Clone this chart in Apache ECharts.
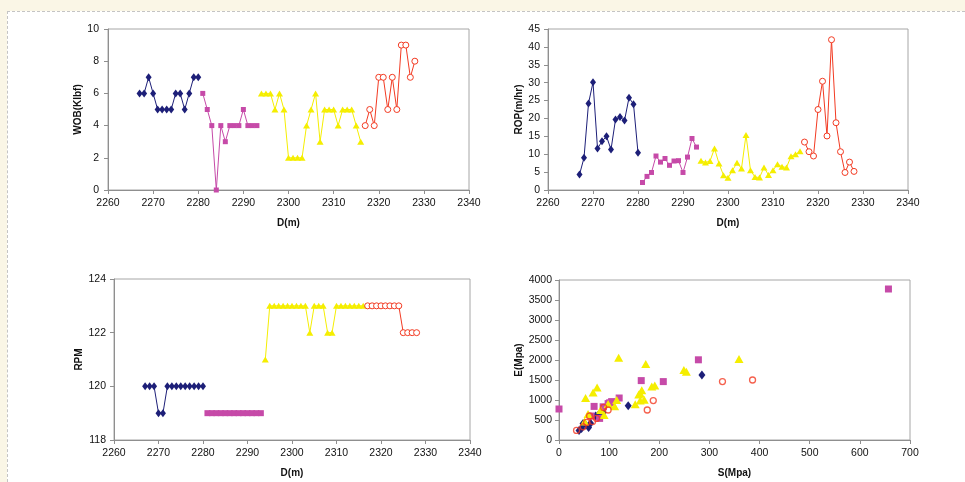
<!DOCTYPE html>
<html>
<head>
<meta charset="utf-8">
<script src="https://cdn.jsdelivr.net/npm/echarts@6/dist/echarts.min.js"></script>
<style>
  html, body { margin: 0; padding: 0; width: 965px; height: 482px; overflow: hidden; background: #faf6e6; }
  #frame { position: absolute; left: 7px; top: 11px; width: 958px; height: 471px; background: #ffffff;
           border-top: 1px dashed #c4c4c4; border-left: 1px dashed #c4c4c4; box-sizing: border-box; }
  #chart { position: absolute; left: 0; top: 0; width: 965px; height: 482px; }
</style>
</head>
<body>
<div id="frame"></div>
<div id="chart"></div>
<script>
// ---- Depth (m) for each section ----
const depthBlue   = [2267,2268,2269,2270,2271,2272,2273,2274,2275,2276,2277,2278,2279,2280];
const depthPink   = [2281,2282,2283,2284,2285,2286,2287,2288,2289,2290,2291,2292,2293];
const depthYellow = [2294,2295,2296,2297,2298,2299,2300,2301,2302,2303,2304,2305,2306,2307,2308,2309,2310,2311,2312,2313,2314,2315,2316];
const depthRed    = [2317,2318,2319,2320,2321,2322,2323,2324,2325,2326,2327,2328];

// ---- WOB (Klbf) ----
const wobBlue   = [6,6,7,6,5,5,5,5,6,6,5,6,7,7];
const wobPink   = [6,5,4,0,4,3,4,4,4,5,4,4,4];
const wobYellow = [6,6,6,5,6,5,2,2,2,2,4,5,6,3,5,5,5,4,5,5,5,4,3];
const wobRed    = [4,5,4,7,7,5,7,5,9,9,7,8];

// ---- ROP (m/hr) ----
const ropBlue   = [4.3,9.0,24.2,30.1,11.6,13.6,15.0,11.3,19.7,20.4,19.4,25.8,24.0,10.4];
const ropPink   = [2.1,3.8,4.9,9.5,7.8,8.8,6.9,8.1,8.2,4.9,9.2,14.4,12.0];
const ropYellow = [8.2,7.7,8.1,11.6,7.4,4.1,3.4,5.5,7.6,6.0,15.4,5.5,3.6,3.5,6.3,4.2,5.5,7.2,6.5,6.3,9.4,10.0,10.8];
const ropRed    = [13.4,10.7,9.5,22.5,30.4,15.1,42.0,18.8,10.7,4.9,7.8,5.2];

// ---- RPM ----
const rpmBlue   = [120,120,120,119,119,120,120,120,120,120,120,120,120,120];
const rpmPink   = [119,119,119,119,119,119,119,119,119,119,119,119,119];
const rpmYellow = [121,123,123,123,123,123,123,123,123,123,122,123,123,123,122,122,123,123,123,123,123,123,123];
const rpmRed    = [123,123,123,123,123,123,123,123,122,122,122,122];

// ---- S (Mpa) vs E (Mpa) ----
const sBlue   = [40,45,48,53,59,63,73,78,88,138,285];
const eBlue   = [235,290,410,380,315,420,600,620,690,855,1625];
const sPink   = [0,64,70,81,88,98,101,105,120,164,208,278,657];
const ePink   = [775,600,840,540,830,910,930,960,1050,1485,1460,2005,3775];
const sYellow = [51,53,58,68,76,83,90,98,111,115,119,152,159,162,162,165,170,173,185,191,249,254,359];
const eYellow = [460,1050,650,1185,1315,750,625,900,845,1000,2055,895,1135,1165,985,1245,1005,1900,1340,1360,1750,1705,2025];
const sRed    = [35,48,55,61,67,75,89,98,176,188,326,386];
const eRed    = [240,330,440,600,460,540,815,750,750,985,1460,1500];

// ---- Axis ticks / names ----
const depthMin = 2260, depthMax = 2340, depthStep = 10;
const sMin = 0, sMax = 700, sStep = 100;

const C_BLUE = '#1d1f78', C_PINK = '#c64aa8', C_YEL = '#f5ee00', C_RED = '#f23a22';
const FONT = '"Liberation Sans", Arial, sans-serif';
const AX = '#8f8f8f';
const plain = v => String(v);

function pairs(xs, ys) { return xs.map((x, i) => [x, ys[i]]); }

function xAx(gi, name, min, max, step, fs) {
  return {
    type: 'value', gridIndex: gi, min: min, max: max, interval: step,
    name: name, nameLocation: 'middle', nameGap: 28,
    nameTextStyle: { fontFamily: FONT, fontWeight: 'bold', fontSize: 10, color: '#111' },
    axisLine: { show: true, lineStyle: { color: AX, width: 1 } },
    axisTick: { show: true, length: 4, lineStyle: { color: AX } },
    axisLabel: { fontFamily: FONT, fontSize: fs, color: '#111', margin: 8, formatter: plain },
    splitLine: { show: false }
  };
}
function yAx(gi, name, min, max, step, gap, fs, margin) {
  return {
    type: 'value', gridIndex: gi, min: min, max: max, interval: step,
    name: name, nameLocation: 'middle', nameGap: gap, nameRotate: 90,
    nameTextStyle: { fontFamily: FONT, fontWeight: 'bold', fontSize: 10, color: '#111' },
    axisLine: { show: true, lineStyle: { color: AX, width: 1 } },
    axisTick: { show: true, length: 4, lineStyle: { color: AX } },
    axisLabel: { fontFamily: FONT, fontSize: fs, color: '#111', margin: margin, formatter: plain },
    splitLine: { show: false }
  };
}

function lineSeries(gi, xs, ys, color, symbol, size, empty) {
  return {
    type: 'line', xAxisIndex: gi, yAxisIndex: gi,
    data: pairs(xs, ys), symbol: symbol, symbolSize: size, showSymbol: true,
    lineStyle: { color: color, width: 1 },
    itemStyle: empty ? { color: '#ffffff', borderColor: color, borderWidth: 1 } : { color: color, borderWidth: 0 },
    animation: false, z: 2
  };
}
function scatterSeries(xs, ys, color, symbol, size, empty) {
  return {
    type: 'scatter', xAxisIndex: 3, yAxisIndex: 3,
    data: pairs(xs, ys), symbol: symbol, symbolSize: size,
    itemStyle: empty ? { color: 'rgba(255,255,255,0)', borderColor: color, borderWidth: 1.3 } : { color: color, borderWidth: 0, opacity: 1 },
    animation: false
  };
}

const gridStyle = { show: true, borderColor: '#a6a6a6', borderWidth: 1, backgroundColor: 'transparent' };

const option = {
  backgroundColor: 'transparent',
  animation: false,
  grid: [
    Object.assign({ left: 108, top: 29, width: 361, height: 161 }, gridStyle),
    Object.assign({ left: 548, top: 29, width: 360, height: 161 }, gridStyle),
    Object.assign({ left: 114, top: 279, width: 356, height: 161 }, gridStyle),
    Object.assign({ left: 559, top: 280, width: 351, height: 160 }, gridStyle)
  ],
  xAxis: [
    xAx(0, 'D(m)', depthMin, depthMax, depthStep, 10.5),
    xAx(1, 'D(m)', depthMin, depthMax, depthStep, 10.5),
    xAx(2, 'D(m)', depthMin, depthMax, depthStep, 10.5),
    xAx(3, 'S(Mpa)', sMin, sMax, sStep, 10.5)
  ],
  yAxis: [
    yAx(0, 'WOB(Klbf)', 0, 10, 2, 21, 10.5, 9),
    yAx(1, 'ROP(m/hr)', 0, 45, 5, 22, 10.5, 8),
    yAx(2, 'RPM', 118, 124, 2, 29, 10.5, 8),
    yAx(3, 'E(Mpa)', 0, 4000, 500, 27, 10.5, 7)
  ],
  series: [
    lineSeries(0, depthBlue, wobBlue, C_BLUE, 'diamond', [6, 8]),
    lineSeries(0, depthPink, wobPink, C_PINK, 'rect', 5),
    lineSeries(0, depthYellow, wobYellow, C_YEL, 'triangle', [7, 6]),
    lineSeries(0, depthRed, wobRed, C_RED, 'circle', 6, true),

    lineSeries(1, depthBlue, ropBlue, C_BLUE, 'diamond', [6, 8]),
    lineSeries(1, depthPink, ropPink, C_PINK, 'rect', 5),
    lineSeries(1, depthYellow, ropYellow, C_YEL, 'triangle', [7, 6]),
    lineSeries(1, depthRed, ropRed, C_RED, 'circle', 6, true),

    lineSeries(2, depthBlue, rpmBlue, C_BLUE, 'diamond', [6, 8]),
    lineSeries(2, depthPink, rpmPink, C_PINK, 'rect', 6),
    lineSeries(2, depthYellow, rpmYellow, C_YEL, 'triangle', [7, 6]),
    lineSeries(2, depthRed, rpmRed, C_RED, 'circle', 6, true),

    scatterSeries(sBlue, eBlue, C_BLUE, 'diamond', [7, 9]),
    scatterSeries(sPink, ePink, C_PINK, 'rect', 7),
    scatterSeries(sYellow, eYellow, C_YEL, 'triangle', [9, 8]),
    scatterSeries(sRed, eRed, C_RED, 'circle', 6, true)
  ]
};

const chart = echarts.init(document.getElementById('chart'), null, { renderer: 'canvas' });
chart.setOption(option);
</script>
</body>
</html>
